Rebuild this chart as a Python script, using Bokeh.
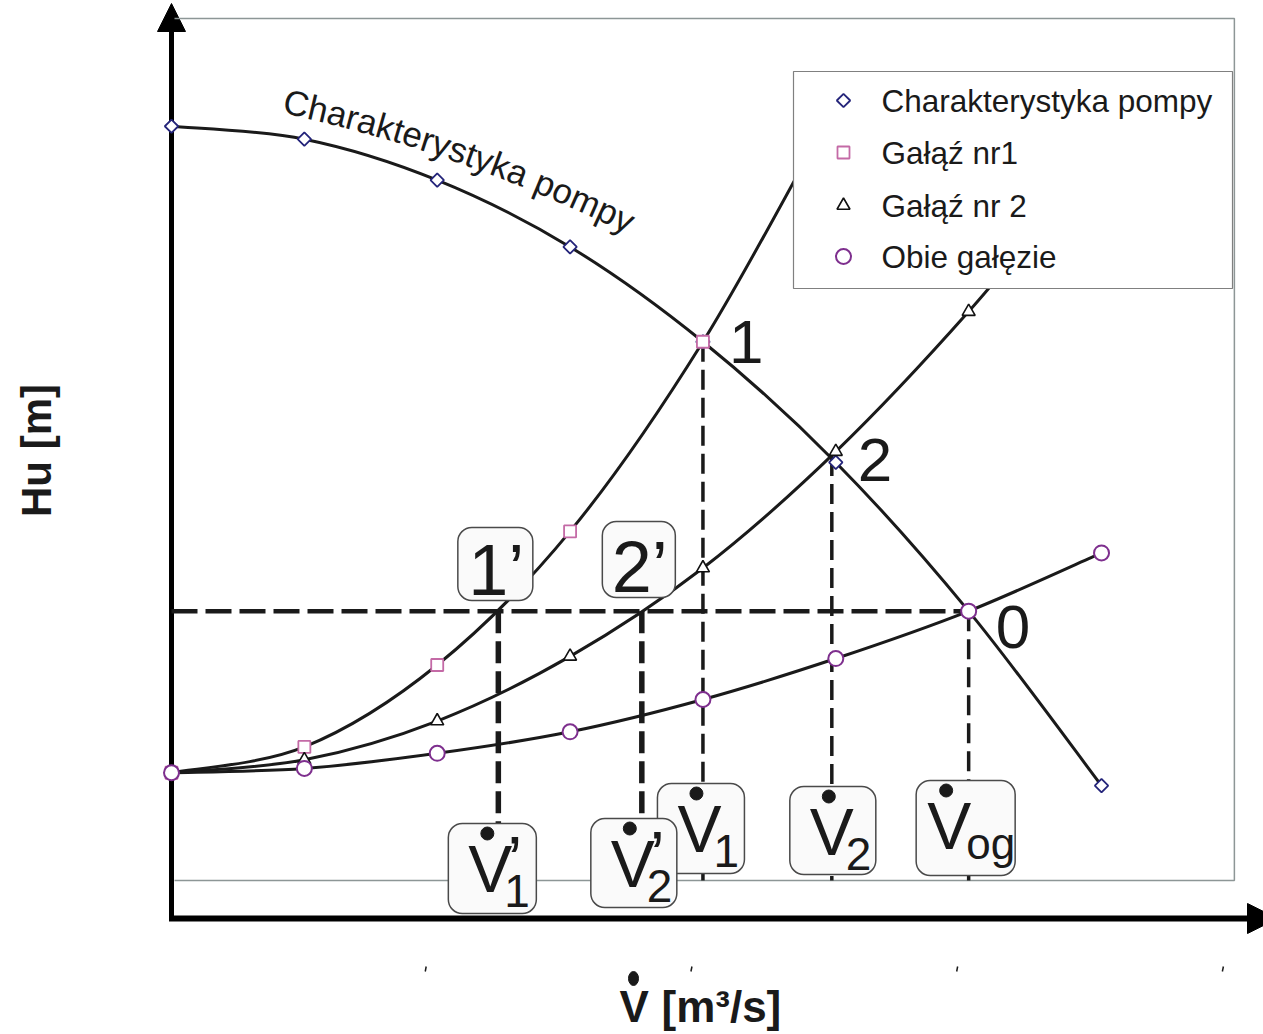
import numpy as np
from bokeh.plotting import figure
from bokeh.models import Range1d, Arrow, NormalHead
from bokeh.core.properties import value
from bokeh.embed import file_html
from bokeh.resources import INLINE

# ---- data: flow (relative units) and head Hu ----
flow = [0, 1, 2, 3, 4, 5, 6, 7]
pump_head = [17.5, 17.2, 16.25, 14.7, 12.5, 9.7, 6.25, 2.2]
branch1_flow = [0, 1, 2, 3, 4, 5]
branch1_head = [2.5, 3.1, 5.0, 8.1, 12.5, 18.0]
branch2_head = [2.5, 2.8, 3.7, 5.2, 7.25, 9.95, 13.2, 16.9]
both_head = [2.5, 2.6, 2.95, 3.45, 4.2, 5.15, 6.25, 7.6]

# operating points
head_0 = 6.25            # common head at the parallel operating point "0"
flow_1p = 2.46           # V1' (branch 1 at head_0)
flow_2p = 3.54           # V2' (branch 2 at head_0)
flow_1, head_1 = 4.0, 12.5
flow_2, head_2 = 4.97, 9.85
flow_og = 6.0

legend_labels = ["Charakterystyka pompy", "Gałąź nr1", "Gałąź nr 2", "Obie gałęzie"]

# ---- screen <-> data helpers (frame fills the whole canvas) ----
SX0, KX = 171.0, 132.86
SY0, KY = 880.0, 43.1
W, H = 1263, 1034
MID = 0.3465  # baseline -> em-box middle, as a fraction of font size


def X(sx):
    return (sx - SX0) / KX


def Y(sy):
    return (SY0 - sy) / KY


def sx_of(x):
    return SX0 + KX * x


def sy_of(y):
    return SY0 - KY * y


FONT = value("Liberation Sans")
INK = "#1a1a1a"

p = figure(width=W, height=H, x_range=Range1d(X(0), X(W)), y_range=Range1d(Y(H), Y(0)),
           min_border=0, toolbar_location=None, output_backend="svg",
           x_axis_type=None, y_axis_type=None, outline_line_color=None,
           background_fill_color="white", border_fill_color="white")
p.grid.visible = False


def label(sx, baseline_sy, txt, fs, align="left", bold=False, angle=0.0):
    """Place text so that its baseline sits at the given screen position."""
    p.text(x=[X(sx)], y=[Y(baseline_sy - MID * fs)], text=[txt], angle=[angle],
           text_font=FONT, text_font_size=f"{fs}px", text_color=INK,
           text_font_style="bold" if bold else "normal",
           text_align=align, text_baseline="middle")


# plot-area frame (top, right, bottom edges)
p.line([X(174), 8, 8, X(174)], [20, 20, 0, 0], line_color="#8d9696", line_width=1.5)

# ---- dashed construction lines ----
p.line([0, flow_og], [head_0, head_0], line_color=INK, line_width=4.5, line_dash="26 8")
p.segment(x0=[flow_1p, flow_2p], y0=[head_0, head_0], x1=[flow_1p, flow_2p], y1=[0, 0],
          line_color=INK, line_width=5.5, line_dash="22 8")
p.segment(x0=[flow_1, flow_2, flow_og], y0=[head_1, head_2, head_0],
          x1=[flow_1, flow_2, flow_og], y1=[0, 0, 0],
          line_color=INK, line_width=3.5, line_dash="20 8")


# ---- smoothed characteristic curves ----
def smooth_curve(xs, ys):
    xs, ys = np.asarray(xs, float), np.asarray(ys, float)
    n = len(xs)
    out = {k: [] for k in ("x0", "y0", "x1", "y1", "cx0", "cy0", "cx1", "cy1")}
    for i in range(n - 1):
        a = max(i - 1, 0)
        d = min(i + 2, n - 1)
        out["x0"].append(xs[i]); out["y0"].append(ys[i])
        out["x1"].append(xs[i + 1]); out["y1"].append(ys[i + 1])
        out["cx0"].append(xs[i] + (xs[i + 1] - xs[a]) / 6)
        out["cy0"].append(ys[i] + (ys[i + 1] - ys[a]) / 6)
        out["cx1"].append(xs[i + 1] - (xs[d] - xs[i]) / 6)
        out["cy1"].append(ys[i + 1] - (ys[d] - ys[i]) / 6)
    return out


for xs, ys in [(flow, pump_head), (branch1_flow, branch1_head), (flow, branch2_head), (flow, both_head)]:
    p.bezier(**smooth_curve(xs, ys), line_color=INK, line_width=3)

# series markers
DIAMOND = dict(marker="square", angle=np.pi / 4, size=9.5, fill_color="white", line_color="#24247a", line_width=1.8)
SQUARE = dict(marker="square", size=12, fill_color="white", line_color="#c46aa6", line_width=1.8)
TRIANGLE = dict(marker="triangle", size=13, fill_color="white", line_color="#111111", line_width=1.6)
CIRCLE = dict(marker="circle", size=15, fill_color="white", line_color="#7e2f8e", line_width=2)

p.scatter(flow, pump_head, **DIAMOND)
p.scatter(branch1_flow, branch1_head, **SQUARE)
p.scatter(flow, branch2_head, **TRIANGLE)
p.scatter(flow, both_head, **CIRCLE)

# ---- curve label following the pump characteristic ----
curve_text = legend_labels[0]
adv = {"C": 722, "h": 556, "a": 556, "r": 333, "k": 500, "t": 278, "e": 556,
       "y": 500, "s": 500, " ": 278, "p": 556, "o": 556, "m": 833}
fs = 35
P0, P1, P2 = np.array([281.0, 112.0]), np.array([458.0, 150.0]), np.array([626.0, 233.0])
tt = np.linspace(0, 1, 801)
path = ((1 - tt) ** 2)[:, None] * P0 + (2 * (1 - tt) * tt)[:, None] * P1 + (tt ** 2)[:, None] * P2
arc = np.concatenate([[0], np.cumsum(np.hypot(np.diff(path[:, 0]), np.diff(path[:, 1])))])
cx, cy, ca, cs = [], [], [], []
pos = 0.0
for ch in curve_text:
    ti = np.interp(pos, arc, tt)
    sx = np.interp(pos, arc, path[:, 0])
    sy = np.interp(pos, arc, path[:, 1])
    dvec = 2 * (1 - ti) * (P1 - P0) + 2 * ti * (P2 - P1)
    nrm = dvec / np.hypot(*dvec)
    up = np.array([nrm[1], -nrm[0]])          # screen "up" relative to the baseline
    sx, sy = sx + up[0] * MID * fs, sy + up[1] * MID * fs
    cx.append(X(sx)); cy.append(Y(sy)); ca.append(-np.arctan2(dvec[1], dvec[0])); cs.append(ch)
    pos += adv.get(ch, 556) / 1000 * fs
p.text(x=cx, y=cy, text=cs, angle=ca, text_font=FONT, text_font_size=f"{fs}px",
       text_color=INK, text_align="left", text_baseline="middle")

# ---- operating point numbers ----
label(sx_of(flow_1) + 26, 363, "1", 62)
label(sx_of(flow_2) + 26, 481, "2", 62)
label(sx_of(flow_og) + 27, 648, "0", 62)

BOX = dict(fill_color="#fafafa", line_color="#4a4a4a", line_width=1.5, border_radius=14)

# boxed labels 1' and 2'
for fl, lab, top, w, h in [(flow_1p, "1’", 527, 75, 73), (flow_2p, "2’", 521, 73, 76)]:
    c = sx_of(fl) - 3
    p.quad(left=[X(c - w / 2)], right=[X(c + w / 2)], top=[Y(top)], bottom=[Y(top + h)], **BOX)
    label(c + 1, top + h - 6, lab, 72, align="center")

# boxed flow labels V̇ (drawn in this order so overlaps stack correctly)
vboxes = [
    (flow_1p, -6, 823, 88, 90, "1", True),
    (flow_1, -2, 783, 87, 90, "1", False),
    (flow_2p, -8, 818, 86, 89, "2", True),
    (flow_2, 1, 786, 86, 88, "2", False),
    (flow_og, -3, 780, 99, 95, "og", False),
]
for fl, dx, top, w, h, sub, prime in vboxes:
    c = sx_of(fl) + dx
    left = c - w / 2
    p.quad(left=[X(left)], right=[X(left + w)], top=[Y(top)], bottom=[Y(top + h)], **BOX)
    vl = left + (11 if sub == "og" else 20)
    label(vl, top + 68, "V", 66)
    p.scatter([X(vl + 19)], [Y(top + 10)], marker="circle", size=13, fill_color=INK, line_color=INK)
    if sub == "og":
        label(vl + 39, top + 78, sub, 44)
    else:
        label(vl + 36, top + 83, sub, 46)
    if prime:
        label(vl + 39, top + 60, "’", 68)

# ---- legend ----
p.quad(left=[X(793)], right=[X(1232)], top=[Y(71)], bottom=[Y(288)],
       fill_color="white", line_color="#808080", line_width=1.2)
rows = [100, 152, 205, 256]
for style, row in zip([DIAMOND, SQUARE, TRIANGLE, CIRCLE], rows):
    p.scatter([X(843)], [Y(row)], **style)
p.text(x=[X(881)] * 4, y=[Y(r) for r in rows], text=legend_labels, text_font=FONT,
       text_font_size="31.5px", text_color=INK, text_align="left", text_baseline="middle")

# ---- axes with arrow heads ----
p.add_layout(Arrow(end=NormalHead(size=28, fill_color="black", line_color="black"),
                   x_start=0, y_start=Y(920), x_end=0, y_end=Y(3),
                   line_color="black", line_width=5, level="underlay"))
p.add_layout(Arrow(end=NormalHead(size=30, fill_color="black", line_color="black"),
                   x_start=X(168.5), y_start=Y(918), x_end=X(1277), y_end=Y(918),
                   line_color="black", line_width=6, level="underlay"))

# small tick remnants under the axis
ticks = [2, 4, 6, 8]
p.segment(x0=[X(sx_of(t) - 11) for t in ticks], y0=[Y(966)] * 4,
          x1=[X(sx_of(t) - 12) for t in ticks], y1=[Y(971)] * 4, line_color=INK, line_width=1.5)

# axis titles
p.text(x=[X(36)], y=[Y(450)], text=["Hu [m]"], angle=[np.pi / 2], text_font=FONT,
       text_font_size="42px", text_font_style="bold", text_color=INK,
       text_align="center", text_baseline="middle")
label(619, 1021, "V", 44, bold=True)
p.ellipse(x=[X(633)], y=[Y(978)], width=10, height=14, width_units="screen", height_units="screen",
          fill_color=INK, line_color=INK)
label(661, 1021, "[m³/s]", 44, bold=True)

open("out.html", "w").write(file_html(p, INLINE))
